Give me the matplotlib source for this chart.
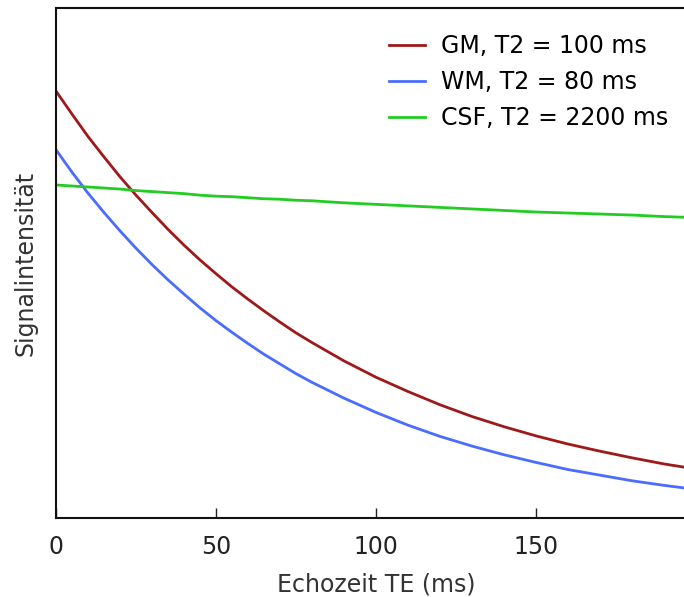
import numpy as np
import matplotlib
matplotlib.use('Agg')
import matplotlib.pyplot as plt

# echo time (ms)
te = [0, 5, 10, 15, 20, 25, 30, 35, 40, 45, 50, 55, 60, 65, 70, 75, 80, 90, 100,
      110, 120, 130, 140, 150, 160, 170, 180, 190, 200]

# signal (a.u.)
gm = [0.837, 0.792, 0.748, 0.708, 0.669, 0.633, 0.599, 0.566, 0.535, 0.506, 0.479,
      0.453, 0.429, 0.406, 0.384, 0.363, 0.344, 0.308, 0.276,
      0.248, 0.222, 0.199, 0.179, 0.161, 0.145, 0.131, 0.118, 0.106, 0.096]
wm = [0.722, 0.678, 0.637, 0.599, 0.563, 0.529, 0.497, 0.467, 0.439, 0.412, 0.387,
      0.364, 0.342, 0.321, 0.302, 0.283, 0.266, 0.235, 0.207,
      0.182, 0.160, 0.141, 0.124, 0.109, 0.095, 0.084, 0.073, 0.064, 0.056]
csf = [0.653, 0.651, 0.649, 0.647, 0.645, 0.642, 0.640, 0.638, 0.636, 0.633, 0.631,
       0.630, 0.628, 0.626, 0.625, 0.623, 0.622, 0.618, 0.615,
       0.612, 0.609, 0.606, 0.603, 0.600, 0.598, 0.596, 0.594, 0.591, 0.589]

labels = ['GM, T2 = 100 ms', 'WM, T2 = 80 ms', 'CSF, T2 = 2200 ms']
xticks = [0, 50, 100, 150]

plt.rcParams['font.family'] = 'DejaVu Sans'
plt.rcParams['font.size'] = 17

fig = plt.figure(figsize=(6.84, 5.97), dpi=100)
ax = fig.add_axes([56/684, 79/597, 640/684, 510/597])

ax.plot(te, gm, color='#9e1a1a', lw=2, label=labels[0])
ax.plot(te, wm, color='#4a6cff', lw=2, label=labels[1])
ax.plot(te, csf, color='#22cc22', lw=2, label=labels[2])

ax.set_xlim(0, 200)
ax.set_ylim(0, 1)
ax.set_xticks(xticks)
ax.set_yticks([])
ax.tick_params(axis='x', direction='in', length=7, width=1, pad=12, colors='#222222')
ax.spines['right'].set_visible(False)
for s in ['left', 'bottom', 'top']:
  ax.spines[s].set_linewidth(1.5)
  ax.spines[s].set_color('#111111')

ax.set_xlabel('Echozeit TE (ms)', color='#333333', labelpad=10)
ax.set_ylabel('Signalintensität', color='#333333', labelpad=13)

ax.legend(loc='upper left', bbox_to_anchor=(368/684, 1 - 13/597),
          bbox_transform=fig.transFigure, frameon=False,
          handlelength=1.5, handletextpad=0.7, labelspacing=0.5)

fig.savefig('out.png', dpi=100)
